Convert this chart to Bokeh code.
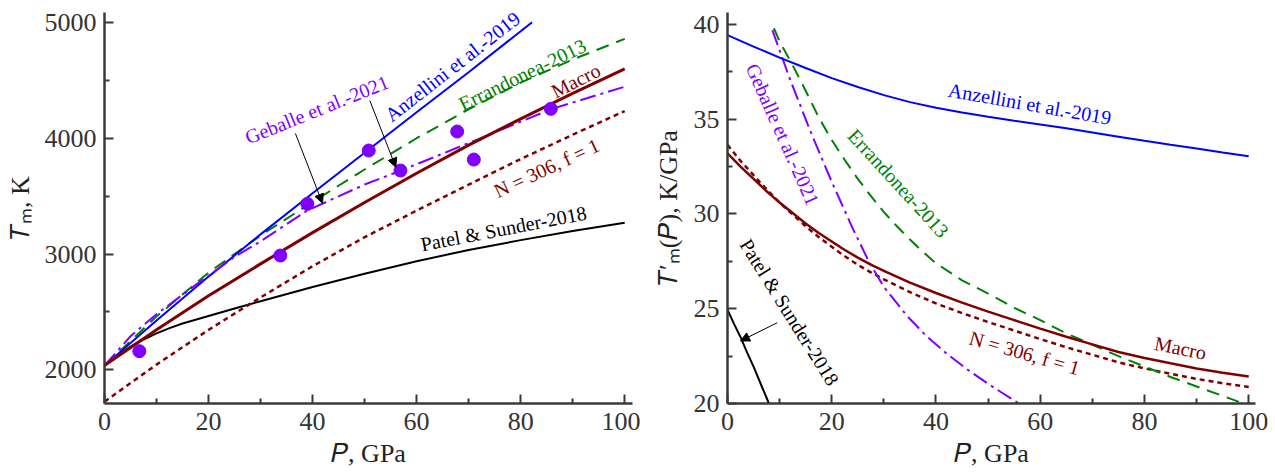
import numpy as np
from bokeh.plotting import figure
from bokeh.models import Label, Arrow, NormalHead, FixedTicker, Range1d
from bokeh.layouts import row
from bokeh.embed import file_html
from bokeh.resources import INLINE

# ---------------- Left panel: melting curves T_m(P), K ----------------
anz_P = [0, 10, 20, 30, 40, 50, 60, 70, 82.2]
anz_T = [2037, 2425, 2805, 3170, 3525, 3875, 4225, 4570, 5002]

err_P = [0, 10, 20, 30, 40, 50, 60, 70, 80, 90, 100]
err_T = [2037, 2460, 2840, 3160, 3450, 3730, 4000, 4250, 4480, 4680, 4858]

geb_P = [0, 5, 10, 17.8, 25, 30, 39, 50, 57, 72, 86, 100]
geb_T = [2037, 2290, 2480, 2742, 2975, 3110, 3376, 3600, 3721, 3995, 4254, 4445]

mac_P = [0, 10, 20, 30, 40, 50, 60, 70, 80, 90, 100]
mac_T = [2037, 2345, 2640, 2915, 3185, 3445, 3698, 3940, 4168, 4388, 4600]

n306_P = [0, 10, 20, 30, 40, 50, 60, 70, 80, 90, 100]
n306_T = [1725, 2045, 2345, 2625, 2895, 3145, 3375, 3600, 3820, 4030, 4235]

pat_P = [0, 2.5, 5, 7.5, 10, 12.5, 15, 20, 25, 30, 40, 50, 60, 70, 80, 90, 100]
pat_T = [2037, 2125, 2200, 2262, 2315, 2360, 2400, 2465, 2530, 2592, 2715, 2830, 2938,
         3035, 3120, 3198, 3270]

exp_P = [6.7, 33.8, 39.0, 50.8, 56.9, 67.8, 71.0, 85.8]
exp_T = [2161, 2987, 3433, 3894, 3721, 4058, 3816, 4254]

# ---------------- Right panel: slopes T'_m(P), K/GPa ----------------
anzd_P = [0, 5, 10, 15, 20, 25, 30, 35, 40, 45, 50, 55, 60, 65, 70, 75, 80, 85, 90, 95, 100]
anzd_V = [39.44, 38.83, 38.25, 37.7, 37.17, 36.7, 36.27, 35.9, 35.6, 35.35, 35.13, 34.92,
          34.72, 34.52, 34.3, 34.08, 33.86, 33.65, 33.45, 33.24, 33.04]

gebd_P = [8.6, 12, 16, 20, 24, 27.1, 30, 34.5, 38, 42.2, 46, 50.2, 55.9]
gebd_V = [39.7, 37.1, 34.3, 31.7, 29.25, 27.5, 26.15, 24.6, 23.6, 22.6, 21.8, 21.0, 20.0]

errd_P = [8.9, 10, 12.4, 15, 17.5, 20, 22.5, 25, 27.5, 30, 32.5, 35, 37.5, 40, 45, 50,
          55, 60, 65, 70, 75, 80, 85, 90, 95, 98.5]
errd_V = [39.8, 39.1, 37.9, 36.5, 35.1, 33.9, 32.85, 31.85, 30.95, 30.1, 29.35, 28.65, 28.0,
          27.4, 26.5, 25.8, 25.05, 24.4, 23.7, 23.1, 22.5, 21.95, 21.4, 20.9, 20.4, 20.05]

macd_P = [0, 2.5, 5, 7.5, 10, 12.5, 15, 17.5, 20, 22.5, 25, 27.5, 30, 35, 40, 45, 50,
          55, 60, 65, 70, 75, 80, 85, 90, 95, 100]
macd_V = [33.2, 32.5, 31.85, 31.2, 30.6, 30.05, 29.5, 29.0, 28.55, 28.1, 27.7, 27.33, 27.0,
          26.38, 25.83, 25.32, 24.85, 24.4, 23.95, 23.52, 23.12, 22.72, 22.4, 22.12, 21.85,
          21.62, 21.42]

n306d_P = [0, 2.5, 5, 7.5, 10, 12.5, 15, 17.5, 20, 22.5, 25, 27.5, 30, 35, 40, 45, 50,
           55, 60, 65, 70, 75, 80, 85, 90, 95, 100]
n306d_V = [33.65, 32.8, 32.05, 31.3, 30.6, 29.97, 29.35, 28.78, 28.27, 27.77, 27.32, 26.92,
           26.55, 25.88, 25.28, 24.77, 24.3, 23.85, 23.4, 22.97, 22.57, 22.17, 21.85, 21.57,
           21.3, 21.07, 20.87]

patd_P = [0, 1.25, 2.5, 3.75, 5, 6.5, 7.95]
patd_V = [24.95, 24.2, 23.5, 22.7, 21.95, 20.95, 20.0]

x_ticks = [0, 20, 40, 60, 80, 100]
x_minor = [10, 30, 50, 70, 90]
yL_ticks = [2000, 3000, 4000, 5000]
yL_minor = [2500, 3500, 4500]
yR_ticks = [20, 25, 30, 35, 40]
yR_minor = [22.5, 27.5, 32.5, 37.5]

x_title = "\U0001D443, GPa"
yL_title = "\U0001D447\u2098, K"
yR_title = "\U0001D447\u2032\u2098(\U0001D443), K/GPa"

BLUE = "#0000ff"
GREEN = "#008000"
PURPLE = "#8000ff"
MAROON = "#800000"
BLACK = "#000000"
AX = "#3a3a3a"
SERIF = "Liberation Serif"


def style(p, xt, xm, yt, ym, xlab, ylab, ystand):
    p.xaxis.ticker = FixedTicker(ticks=xt, minor_ticks=xm)
    p.yaxis.ticker = FixedTicker(ticks=yt, minor_ticks=ym)
    for ax in (p.xaxis[0], p.yaxis[0]):
        ax.axis_line_color = AX
        ax.axis_line_width = 2.5
        ax.major_tick_line_color = AX
        ax.major_tick_line_width = 2
        ax.major_tick_in = 9
        ax.major_tick_out = 0
        ax.minor_tick_line_color = AX
        ax.minor_tick_line_width = 2
        ax.minor_tick_in = 5
        ax.minor_tick_out = 0
        ax.major_label_text_font = SERIF
        ax.major_label_text_font_size = "26px"
        ax.major_label_text_color = "#333333"
        ax.axis_label_text_font = SERIF
        ax.axis_label_text_font_size = "26px"
        ax.axis_label_text_font_style = "normal"
        ax.axis_label_text_color = "#222222"
    p.xaxis.axis_label = xlab
    p.yaxis.axis_label = ylab
    p.xaxis.major_label_standoff = 9
    p.yaxis.major_label_standoff = 8
    p.xaxis.axis_label_standoff = 6
    p.yaxis.axis_label_standoff = ystand
    p.grid.visible = False
    p.outline_line_color = None
    p.background_fill_color = "white"
    p.border_fill_color = "white"


def note(p, x, y, txt, color, deg, size="20px"):
    p.add_layout(Label(x=x, y=y, text=txt, angle=np.deg2rad(deg), text_color=color,
                       text_font=SERIF, text_font_size=size, text_align="center",
                       text_baseline="middle"))


def arrow(p, x0, y0, x1, y1):
    p.add_layout(Arrow(x_start=x0, y_start=y0, x_end=x1, y_end=y1, line_color=BLACK,
                       line_width=1,
                       end=NormalHead(size=9, fill_color=BLACK, line_color=BLACK, line_width=1)))


# ---------------- left figure ----------------
p1 = figure(width=640, height=473, output_backend="svg", toolbar_location=None,
            x_range=Range1d(0, 101.5), y_range=Range1d(1709, 5086),
            min_border_left=104, min_border_right=8, min_border_top=12, min_border_bottom=70)
style(p1, x_ticks, x_minor, yL_ticks, yL_minor, x_title, yL_title, 7)

p1.line(pat_P, pat_T, line_color=BLACK, line_width=2)
p1.line(n306_P, n306_T, line_color=MAROON, line_width=2.5, line_dash="5 4")
p1.line(err_P, err_T, line_color=GREEN, line_width=2, line_dash="13 8")
p1.line(anz_P, anz_T, line_color=BLUE, line_width=2)
p1.line(geb_P, geb_T, line_color=PURPLE, line_width=2, line_dash="16 5 3 5")
p1.line(mac_P, mac_T, line_color=MAROON, line_width=3)
p1.scatter(exp_P, exp_T, size=13, color=PURPLE)

note(p1, 40.8, 4248, "Geballe et al.-2021", PURPLE, 22)
note(p1, 66.9, 4619, "Anzellini et al.-2019", BLUE, 38)
note(p1, 80.3, 4550, "Errandonea-2013", GREEN, 26)
note(p1, 90.6, 4498, "Macro", MAROON, 27)
note(p1, 85.0, 3743, "N = 306, f = 1", MAROON, 25)
note(p1, 76.7, 3220, "Patel & Sunder-2018", BLACK, 11)
arrow(p1, 36.7, 4041, 41.9, 3439)
arrow(p1, 51.0, 4326, 56.0, 3750)

# ---------------- right figure ----------------
p2 = figure(width=635, height=473, output_backend="svg", toolbar_location=None,
            x_range=Range1d(0, 101.3), y_range=Range1d(20, 40.63),
            min_border_left=87, min_border_right=20, min_border_top=9, min_border_bottom=70)
style(p2, x_ticks, x_minor, yR_ticks, yR_minor, x_title, yR_title, 8)

p2.line(patd_P, patd_V, line_color=BLACK, line_width=2)
p2.line(n306d_P, n306d_V, line_color=MAROON, line_width=2.5, line_dash="5 4")
p2.line(errd_P, errd_V, line_color=GREEN, line_width=2, line_dash="13 8")
p2.line(gebd_P, gebd_V, line_color=PURPLE, line_width=2, line_dash="16 5 3 5")
p2.line(anzd_P, anzd_V, line_color=BLUE, line_width=2)
p2.line(macd_P, macd_V, line_color=MAROON, line_width=2.5)

note(p2, 58.0, 35.81, "Anzellini et al.-2019", BLUE, -10)
note(p2, 10.6, 34.2, "Geballe et al.-2021", PURPLE, -66)
note(p2, 32.8, 31.62, "Errandonea-2013", GREEN, -47.6)
note(p2, 11.9, 24.82, "Patel & Sunder-2018", BLACK, -58)
note(p2, 86.9, 22.93, "Macro", MAROON, -11)
note(p2, 57.0, 22.67, "N = 306, f = 1", MAROON, -16)
arrow(p2, 9.54, 24.26, 2.5, 23.3)

layout = row(p1, p2)
open("out.html", "w").write(file_html(layout, INLINE))
